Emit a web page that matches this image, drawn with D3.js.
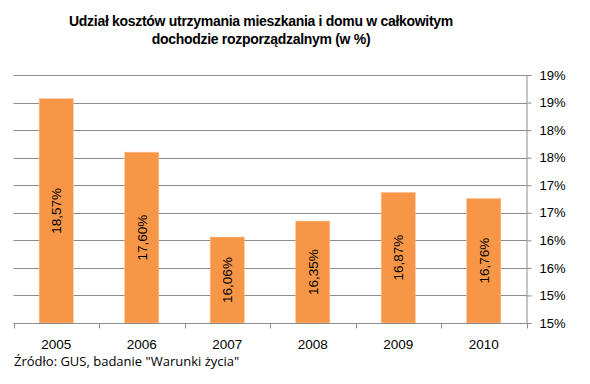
<!DOCTYPE html>
<html lang="pl">
<head>
<meta charset="utf-8">
<title>Udział kosztów utrzymania</title>
<script src="https://cdn.jsdelivr.net/npm/d3@7"></script>
<style>
  body { margin: 0; background: #fff; }
  text { font-family: "Liberation Sans", Arial, sans-serif; fill: #000; }
</style>
</head>
<body>
<script>
// data
var years = ["2005", "2006", "2007", "2008", "2009", "2010"];
var shares = [18.57, 17.60, 16.06, 16.35, 16.87, 16.76];
var yTicks = [14.5, 15, 15.5, 16, 16.5, 17, 17.5, 18, 18.5, 19];
var titleLines = ["Udział kosztów utrzymania mieszkania i domu w całkowitym", "dochodzie rozporządzalnym (w %)"];
var source = "Źródło: GUS, badanie \"Warunki życia\"";

var w = 590, h = 384;
var pLeft = 13.5, pRight = 526.5, pTop = 75, pBottom = 323;

var svg = d3.select("body").append("svg")
  .attr("width", w).attr("height", h);

var x = d3.scaleBand().domain(years).range([pLeft, pRight]).paddingInner(0.6).paddingOuter(0.3);
var xb = d3.scaleBand().domain(years).range([pLeft, pRight]);
var y = d3.scaleLinear().domain([14.5, 19]).range([pBottom, pTop]);

// gridlines
svg.append("g").selectAll("line").data(yTicks).enter().append("line")
  .attr("x1", pLeft).attr("x2", pRight)
  .attr("y1", function(d) { return Math.round(y(d)) + 0.5; })
  .attr("y2", function(d) { return Math.round(y(d)) + 0.5; })
  .attr("stroke", "#8c8c8c").attr("stroke-width", 1);

// right axis
var fmt = function(d) { return Math.floor(d + 0.5) + "%"; };
var yAxis = svg.append("g").attr("transform", "translate(" + pRight + ",0)")
  .call(d3.axisRight(y).tickValues(yTicks).tickFormat(fmt).tickSize(5).tickPadding(8));
yAxis.select(".domain").attr("stroke", "#8c8c8c");
yAxis.selectAll(".tick line").attr("stroke", "#8c8c8c");
yAxis.selectAll("text").style("font-size", "13px").attr("fill", "#000");

// bars
svg.append("g").selectAll("rect").data(shares).enter().append("rect")
  .attr("x", function(d, i) { return x(years[i]); })
  .attr("y", function(d) { return y(d); })
  .attr("width", x.bandwidth())
  .attr("height", function(d) { return pBottom - y(d); })
  .attr("fill", "#f79646")
  .attr("stroke", "#fbc79e").attr("stroke-width", 0.6);

// bar labels
svg.append("g").selectAll("text").data(shares).enter().append("text")
  .attr("transform", function(d, i) {
    var cx = x(years[i]) + x.bandwidth() / 2;
    var cy = (y(d) + pBottom) / 2;
    return "translate(" + (cx + 5) + "," + cy + ") rotate(-90)";
  })
  .attr("text-anchor", "middle")
  .style("font-size", "13.5px")
  .text(function(d) { return d.toFixed(2).replace(".", ",") + "%"; });

// x axis
var xAxis = svg.append("g").attr("transform", "translate(0," + (pBottom + 0.5) + ")");
xAxis.append("line").attr("x1", pLeft).attr("x2", pRight).attr("stroke", "#8c8c8c");
xAxis.selectAll(".tk").data(d3.range(years.length + 1)).enter().append("line")
  .attr("x1", function(i) { return Math.round(pLeft + i * xb.step()) + 0.5; })
  .attr("x2", function(i) { return Math.round(pLeft + i * xb.step()) + 0.5; })
  .attr("y1", 0).attr("y2", 5).attr("stroke", "#8c8c8c");
xAxis.selectAll("text").data(years).enter().append("text")
  .attr("x", function(d) { return xb(d) + xb.bandwidth() / 2; })
  .attr("y", 25)
  .attr("text-anchor", "middle")
  .style("font-size", "13.5px")
  .text(function(d) { return d; });

// title
svg.append("g").selectAll("text").data(titleLines).enter().append("text")
  .attr("x", 261).attr("y", function(d, i) { return 26 + i * 18; })
  .attr("text-anchor", "middle")
  .style("font-size", "14px").style("font-weight", "bold")
  .style("letter-spacing", "-0.3px")
  .text(function(d) { return d; });

// source
svg.append("text").attr("x", 14).attr("y", 366)
  .style("font-family", "'Open Sans', sans-serif").style("font-size", "13px")
  .text(source);
</script>
</body>
</html>
